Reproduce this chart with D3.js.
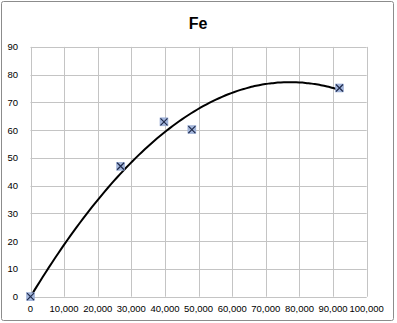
<!DOCTYPE html>
<html><head><meta charset="utf-8">
<script src="https://cdn.jsdelivr.net/npm/d3@7"></script>
<style>body{margin:0;background:#fff}svg{display:block}</style>
</head><body>
<script>
const title = "Fe";
const xValues = [0, 26800, 39700, 48000, 91900];
const yValues = [0, 47, 63, 60.2, 75.2];
const xTicks = [0,10000,20000,30000,40000,50000,60000,70000,80000,90000,100000];
const yTicks = [0,10,20,30,40,50,60,70,80,90];

const W = 397, H = 323;
const svg = d3.select("body").append("svg").attr("width", W).attr("height", H);
svg.append("rect").attr("x",1.5).attr("y",1.5).attr("width",392).attr("height",319)
  .attr("fill","#fff").attr("stroke","#8c8c8c").attr("stroke-width",1).attr("rx",2);

const x = d3.scaleLinear().domain([0,100000]).range([30.5,366.7]);
const y = d3.scaleLinear().domain([0,90]).range([296.7,46.9]);

const g = svg.append("g");
g.selectAll("line.v").data(xTicks).join("line")
  .attr("x1",d=>Math.round(x(d))+0.5).attr("x2",d=>Math.round(x(d))+0.5)
  .attr("y1",y(90)).attr("y2",y(0)).attr("stroke","#c4c4c4").attr("stroke-width",1);
g.selectAll("line.h").data(yTicks).join("line")
  .attr("y1",d=>Math.round(y(d))+0.5).attr("y2",d=>Math.round(y(d))+0.5)
  .attr("x1",x(0)).attr("x2",x(100000)).attr("stroke","#c4c4c4").attr("stroke-width",1);

const fmt = d3.format(",");
g.selectAll("text.x").data(xTicks).join("text")
  .attr("x",d=>x(d)).attr("y",312).attr("text-anchor","middle")
  .attr("font-family","Liberation Sans, Arial, sans-serif").attr("font-size",9.5).attr("fill","#000")
  .text(d=>fmt(d));
g.selectAll("text.y").data(yTicks).join("text")
  .attr("x",18).attr("y",d=>y(d)+3.5).attr("text-anchor","end")
  .attr("font-family","Liberation Sans, Arial, sans-serif").attr("font-size",9.5).attr("fill","#000")
  .text(d=>d);

svg.append("text").attr("x",198).attr("y",29).attr("text-anchor","middle")
  .attr("font-family","Liberation Sans, Arial, sans-serif").attr("font-size",16).attr("font-weight","bold")
  .text(title);

// polynomial (order 2) trendline through origin, least squares from the data
let s2=0,s3=0,s4=0,sxy=0,sx2y=0;
xValues.forEach((xv,i)=>{const t=xv/10000, yv=yValues[i];
  s2+=t*t; s3+=t*t*t; s4+=t*t*t*t; sxy+=t*yv; sx2y+=t*t*yv;});
const det = s2*s4 - s3*s3;
const a = (sxy*s4 - s3*sx2y)/det, b = (s2*sx2y - s3*sxy)/det;
const xmax = d3.max(xValues);
const curve = d3.range(0, 101).map(i => { const xv = xmax*i/100, t = xv/10000; return [xv, a*t + b*t*t]; });
svg.append("path").datum(curve)
  .attr("d", d3.line().x(d=>x(d[0])).y(d=>y(d[1])).curve(d3.curveBasis))
  .attr("fill","none").attr("stroke","#000").attr("stroke-width",2);

const pts = svg.selectAll("g.pt").data(xValues.map((v,i)=>[v,yValues[i]])).join("g")
  .attr("transform",d=>`translate(${x(d[0])},${y(d[1])})`);
pts.append("rect").attr("x",-4).attr("y",-4).attr("width",8).attr("height",8)
  .attr("fill","#a3b6dc").attr("stroke","#8fa4cf").attr("stroke-width",0.5);
pts.append("path").attr("d","M-3.5,-3.5L3.5,3.5M-3.5,3.5L3.5,-3.5")
  .attr("stroke","#1f2a4a").attr("stroke-width",1.2);
</script>
</body></html>
